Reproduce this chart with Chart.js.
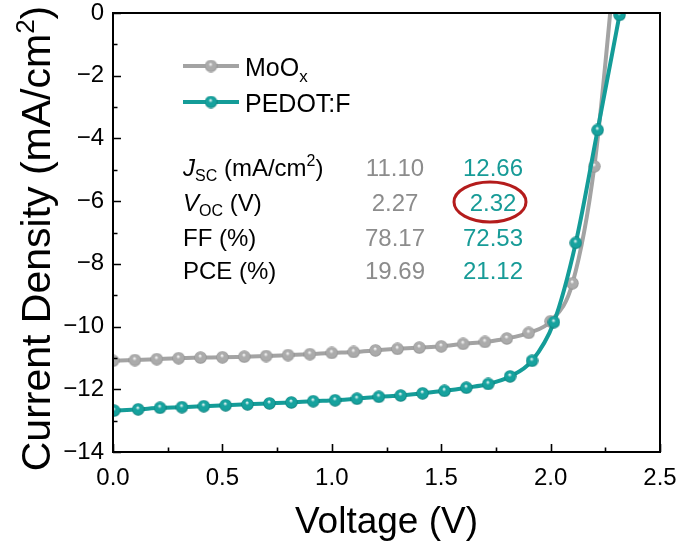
<!DOCTYPE html>
<html>
<head>
<meta charset="utf-8">
<script src="https://cdn.jsdelivr.net/npm/chart.js@4.4.1/dist/chart.umd.min.js"></script>
<style>
  html, body { margin: 0; padding: 0; background: #fff; }
  #wrap { width: 676px; height: 544px; }
</style>
</head>
<body>
<div id="wrap"><canvas id="jvChart" width="676" height="544"></canvas></div>
<script>
// J-V data
const voltMoOx = [0.0, 0.1, 0.2, 0.3, 0.4, 0.5, 0.6, 0.7, 0.8, 0.9, 1.0, 1.1, 1.2, 1.3, 1.4, 1.5, 1.6, 1.7, 1.8, 1.9, 2.0, 2.1, 2.2, 2.3]
const curMoOx = [-11.09, -11.07, -11.04, -11.01, -10.99, -10.98, -10.96, -10.94, -10.91, -10.88, -10.84, -10.81, -10.76, -10.71, -10.67, -10.63, -10.55, -10.49, -10.38, -10.20, -9.83, -8.62, -4.89, 2.0]

const voltPedot = [0.005, 0.115, 0.215, 0.315, 0.415, 0.515, 0.615, 0.715, 0.815, 0.915, 1.015, 1.115, 1.215, 1.315, 1.415, 1.515, 1.615, 1.715, 1.815, 1.915, 2.015, 2.115, 2.215, 2.315]
const curPedot = [-12.68, -12.64, -12.59, -12.57, -12.54, -12.51, -12.48, -12.45, -12.42, -12.38, -12.35, -12.30, -12.24, -12.20, -12.13, -12.05, -11.95, -11.83, -11.59, -11.09, -9.86, -7.33, -3.73, -0.06]

const seriesNames = ['MoO', 'PEDOT:F']
const statNames = ['Jsc', 'Voc', 'FF (%)', 'PCE (%)']
const statMoOx = ['11.10', '2.27', '78.17', '19.69']
const statPedot = ['12.66', '2.32', '72.53', '21.12']

const FONT = "'Liberation Sans', Arial, sans-serif"
const GRAY = '#a3a3a3'
const TEAL = '#149c98'

const ball = (base, dark) => {
    const c = document.createElement('canvas')
    c.width = 13
    c.height = 13
    const g = c.getContext('2d')
    const grad = g.createRadialGradient(6, 4.6, 0.2, 6.5, 6.5, 6.5)
    grad.addColorStop(0, '#ffffff')
    grad.addColorStop(0.3, base)
    grad.addColorStop(0.75, base)
    grad.addColorStop(1, dark)
    g.fillStyle = grad
    g.beginPath()
    g.arc(6.5, 6.5, 6.2, 0, Math.PI * 2)
    g.fill()
    return c
}
const grayBall = ball('#ababab', '#8c8c8c')
const tealBall = ball('#16a29e', '#0b7774')

const toPoints = (xs, ys) => xs.map((x, i) => ({ x: x, y: ys[i] }))

// draw a row of text pieces (for sub/superscripts)
const drawRuns = (ctx, x, y, runs) => {
    runs.forEach(r => {
        ctx.font = r.font
        ctx.fillStyle = r.color || '#000'
        ctx.fillText(r.t, x, y + (r.dy || 0))
        x += ctx.measureText(r.t).width
    })
    return x
}
const runsWidth = (ctx, runs) => {
    let w = 0
    runs.forEach(r => { ctx.font = r.font; w += ctx.measureText(r.t).width })
    return w
}

const decor = {
    id: 'decor',
    afterDraw(chart) {
        const ctx = chart.ctx
        const a = chart.chartArea
        const xs = chart.scales.x
        const ys = chart.scales.y
        ctx.save()

        // frame
        ctx.strokeStyle = '#000'
        ctx.lineWidth = 2
        ctx.strokeRect(a.left, a.top, a.right - a.left, a.bottom - a.top)

        // inward ticks
        ctx.lineWidth = 1.6
        ctx.beginPath()
        for (let v = 0; v <= 2.5001; v += 0.25) {
            const px = Math.round(xs.getPixelForValue(v)) + 0.5
            const len = Math.abs(v * 2 - Math.round(v * 2)) < 1e-6 ? 8 : 4.5
            ctx.moveTo(px, a.bottom)
            ctx.lineTo(px, a.bottom - len)
        }
        for (let v = 0; v >= -14; v -= 1) {
            const py = Math.round(ys.getPixelForValue(v)) + 0.5
            const len = v % 2 === 0 ? 8 : 4.5
            ctx.moveTo(a.left, py)
            ctx.lineTo(a.left + len, py)
        }
        ctx.stroke()

        // axis titles
        ctx.textBaseline = 'alphabetic'
        ctx.textAlign = 'left'
        const xTitle = [{ t: 'Voltage (V)', font: '37px ' + FONT }]
        drawRuns(ctx, (a.left + a.right) / 2 - runsWidth(ctx, xTitle) / 2, 533, xTitle)

        const yTitle = [
            { t: 'Current Density (mA/cm', font: '41px ' + FONT },
            { t: '2', font: '26px ' + FONT, dy: -16 },
            { t: ')', font: '41px ' + FONT }
        ]
        ctx.save()
        ctx.translate(50, (a.top + a.bottom) / 2 + 6)
        ctx.rotate(-Math.PI / 2)
        drawRuns(ctx, -runsWidth(ctx, yTitle) / 2, 0, yTitle)
        ctx.restore()

        // legend
        const legend = [
            { y: 66, color: GRAY, img: grayBall, runs: [{ t: seriesNames[0], font: '25px ' + FONT }, { t: 'x', font: '17px ' + FONT, dy: 6 }] },
            { y: 102, color: TEAL, img: tealBall, runs: [{ t: seriesNames[1], font: '25px ' + FONT }] }
        ]
        legend.forEach(item => {
            ctx.strokeStyle = item.color
            ctx.lineWidth = 4
            ctx.beginPath()
            ctx.moveTo(183, item.y)
            ctx.lineTo(239, item.y)
            ctx.stroke()
            ctx.drawImage(item.img, 211 - 6.5, item.y - 6.5)
            drawRuns(ctx, 245, item.y + 10, item.runs)
        })

        // stats table
        const f = '24px ' + FONT
        const fi = 'italic 24px ' + FONT
        const fs = '16px ' + FONT
        const rowY = [176, 211, 246, 279]
        const labels = [
            [{ t: 'J', font: fi }, { t: 'SC', font: fs, dy: 5 }, { t: ' (mA/cm', font: f }, { t: '2', font: fs, dy: -10 }, { t: ')', font: f }],
            [{ t: 'V', font: fi }, { t: 'OC', font: fs, dy: 5 }, { t: ' (V)', font: f }],
            [{ t: statNames[2], font: f }],
            [{ t: statNames[3], font: f }]
        ]
        labels.forEach((runs, i) => drawRuns(ctx, 183, rowY[i], runs))
        ctx.font = f
        ctx.textAlign = 'center'
        statMoOx.forEach((s, i) => {
            ctx.fillStyle = '#8c8c8c'
            ctx.fillText(s, 395, rowY[i])
        })
        statPedot.forEach((s, i) => {
            ctx.fillStyle = '#179b97'
            ctx.fillText(s, 493, rowY[i])
        })

        // highlight around the PEDOT:F Voc value
        ctx.strokeStyle = '#b41c1c'
        ctx.lineWidth = 3
        ctx.beginPath()
        ctx.ellipse(490, 202, 36, 20, 0, 0, Math.PI * 2)
        ctx.stroke()

        ctx.restore()
    }
}

new Chart(document.getElementById('jvChart'), {
    type: 'line',
    data: {
        datasets: [{
            label: seriesNames[1],
            data: toPoints(voltPedot, curPedot),
            borderColor: TEAL,
            borderWidth: 4,
            pointStyle: tealBall,
            cubicInterpolationMode: 'monotone',
            order: 0
        }, {
            label: seriesNames[0],
            data: toPoints(voltMoOx, curMoOx),
            borderColor: GRAY,
            borderWidth: 4,
            pointStyle: grayBall,
            cubicInterpolationMode: 'monotone',
            order: 1
        }]
    },
    options: {
        responsive: false,
        animation: false,
        devicePixelRatio: 1,
        layout: { padding: { top: 13, right: 16, bottom: 0, left: 0 } },
        plugins: { legend: { display: false }, tooltip: { enabled: false } },
        scales: {
            x: {
                type: 'linear',
                min: 0,
                max: 2.5,
                grid: { display: false, drawTicks: false },
                border: { display: false },
                ticks: {
                    stepSize: 0.5,
                    padding: 12,
                    color: '#000',
                    font: { family: FONT, size: 24 },
                    maxRotation: 0,
                    callback: v => v.toFixed(1)
                },
                afterFit: s => { s.height = 92; s.paddingLeft = 0; s.paddingRight = 0 }
            },
            y: {
                type: 'linear',
                min: -14,
                max: 0,
                grid: { display: false, drawTicks: false },
                border: { display: false },
                ticks: {
                    stepSize: 2,
                    padding: 9,
                    color: '#000',
                    font: { family: FONT, size: 24 },
                    callback: v => v < 0 ? '\u2212' + Math.abs(v) : String(v)
                },
                afterFit: s => { s.width = 113; s.paddingTop = 0; s.paddingBottom = 0 }
            }
        }
    },
    plugins: [decor]
})
</script>
</body>
</html>
